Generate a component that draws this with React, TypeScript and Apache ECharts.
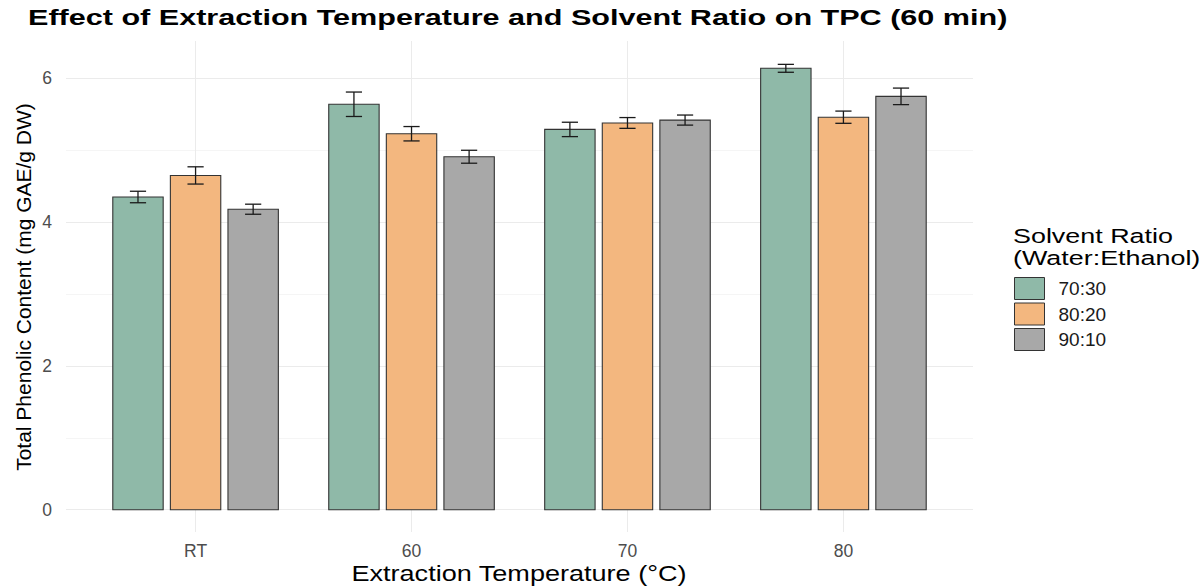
import React, { useEffect, useRef } from "react";
import * as echarts from "echarts";

const categories = ["RT", "60", "70", "80"];
const ratios = ["70:30", "80:20", "90:10"];
const colors = ["#8FB9A8", "#F3B77F", "#A8A8A8"];
const tpc7030 = [4.35, 5.64, 5.29, 6.14];
const tpc8020 = [4.65, 5.23, 5.38, 5.46];
const tpc9010 = [4.18, 4.91, 5.42, 5.75];
const err7030 = [0.08, 0.17, 0.1, 0.055];
const err8020 = [0.12, 0.1, 0.075, 0.085];
const err9010 = [0.07, 0.09, 0.07, 0.115];
const yMajorTicks = [0, 2, 4, 6];
const yMinorTicks = [1, 3, 5];

const values = [tpc7030, tpc8020, tpc9010];
const errors = [err7030, err8020, err9010];

const DODGE = 0.8;
const BAR_W = 0.7 / 3;
const CAP_W = 0.075;

export default function App() {
  const ref = useRef<HTMLDivElement>(null);
  useEffect(() => {
    if (!ref.current) return;
    const chart = echarts.init(ref.current, null, { renderer: "svg" });
    const font = "Liberation Sans, Arial, sans-serif";
    const series = ratios.map((name, j) => ({
      name,
      type: "custom",
      itemStyle: { color: colors[j], borderColor: "#333333", borderWidth: 1 },
      data: categories.map((_, i) => [i, values[j][i], errors[j][i]]),
      renderItem: (params: any, api: any) => {
        const i = api.value(0);
        const v = api.value(1);
        const e = api.value(2);
        const x = i + (j - 1) * (DODGE / 3);
        const p1 = api.coord([x - BAR_W / 2, v]);
        const p2 = api.coord([x + BAR_W / 2, 0]);
        const top = api.coord([x, v + e]);
        const bot = api.coord([x, v - e]);
        const cl = api.coord([x - CAP_W / 2, v]);
        const cr = api.coord([x + CAP_W / 2, v]);
        const eStyle = { stroke: "#1a1a1a", lineWidth: 1.3 };
        return {
          type: "group",
          children: [
            {
              type: "rect",
              shape: { x: p1[0], y: p1[1], width: p2[0] - p1[0], height: p2[1] - p1[1] },
              style: { fill: colors[j], stroke: "#333333", lineWidth: 1.1 },
            },
            { type: "line", shape: { x1: top[0], y1: top[1], x2: bot[0], y2: bot[1] }, style: eStyle },
            { type: "line", shape: { x1: cl[0], y1: top[1], x2: cr[0], y2: top[1] }, style: eStyle },
            { type: "line", shape: { x1: cl[0], y1: bot[1], x2: cr[0], y2: bot[1] }, style: eStyle },
          ],
        };
      },
    }));

    const option: any = {
      animation: false,
      backgroundColor: "#ffffff",
      grid: { left: 66, right: 229, top: 41, bottom: 54, containLabel: false },
      xAxis: {
        type: "value",
        min: -0.6,
        max: 3.6,
        axisLine: { show: false },
        axisTick: { show: false, customValues: [0, 1, 2, 3] },
        axisLabel: {
          customValues: [0, 1, 2, 3],
          formatter: (v: number) => categories[Math.round(v)] ?? "",
          color: "#4D4D4D",
          fontSize: 17.5,
          fontFamily: font,
          margin: 10,
        },
        splitLine: { show: true, lineStyle: { color: "#EBEBEB", width: 1 } },
      },
      yAxis: [
        {
          type: "value",
          min: -0.31,
          max: 6.52,
          axisLine: { show: false },
          axisTick: { show: false, customValues: yMajorTicks },
          axisLabel: {
            customValues: yMajorTicks,
            color: "#4D4D4D",
            fontSize: 17.5,
            fontFamily: font,
            margin: 14,
          },
          splitLine: { show: true, lineStyle: { color: "#EBEBEB", width: 1 } },
        },
        {
          type: "value",
          position: "left",
          min: -0.31,
          max: 6.52,
          axisLine: { show: false },
          axisTick: { show: false, customValues: yMinorTicks },
          axisLabel: { show: false, customValues: yMinorTicks },
          splitLine: { show: true, lineStyle: { color: "#F2F2F2", width: 0.8 } },
        },
      ],
      legend: {
        orient: "vertical",
        left: 1009,
        top: 272,
        itemWidth: 30,
        itemHeight: 22,
        itemGap: 2.5,
        icon: "rect",
        data: ratios.map((name, j) => ({
          name,
          itemStyle: { color: colors[j], borderColor: "#333333", borderWidth: 1 },
        })),
        textStyle: { fontSize: 19, color: "#1A1A1A", fontFamily: font, padding: [0, 0, 0, 9] },
      },
      graphic: [
        {
          type: "text",
          x: 28,
          y: 7,
          scaleX: 1.39,
          style: {
            text: "Effect of Extraction Temperature and Solvent Ratio on TPC (60 min)",
            fontSize: 22,
            fontWeight: "bold",
            fontFamily: font,
            fill: "#000000",
            textAlign: "left",
            textVerticalAlign: "top",
          },
        },
        {
          type: "text",
          x: 519,
          y: 573,
          scaleX: 1.23,
          style: {
            text: "Extraction Temperature (°C)",
            fontSize: 22,
            fontFamily: font,
            fill: "#000000",
            textAlign: "center",
            textVerticalAlign: "middle",
          },
        },
        {
          type: "text",
          x: 23,
          y: 287,
          rotation: Math.PI / 2,
          style: {
            text: "Total Phenolic Content (mg GAE/g DW)",
            fontSize: 21,
            fontFamily: font,
            fill: "#000000",
            textAlign: "center",
            textVerticalAlign: "middle",
          },
        },
        {
          type: "text",
          x: 1013,
          y: 225,
          scaleX: 1.38,
          style: {
            text: "Solvent Ratio\n(Water:Ethanol)",
            fontSize: 19.5,
            lineHeight: 22,
            fontFamily: font,
            fill: "#000000",
          },
        },
      ],
      series,
    };
    chart.setOption(option);
    return () => chart.dispose();
  }, []);
  return (
    <div
      ref={ref}
      style={{ position: "fixed", left: 0, top: 0, width: 1202, height: 586 }}
    />
  );
}
